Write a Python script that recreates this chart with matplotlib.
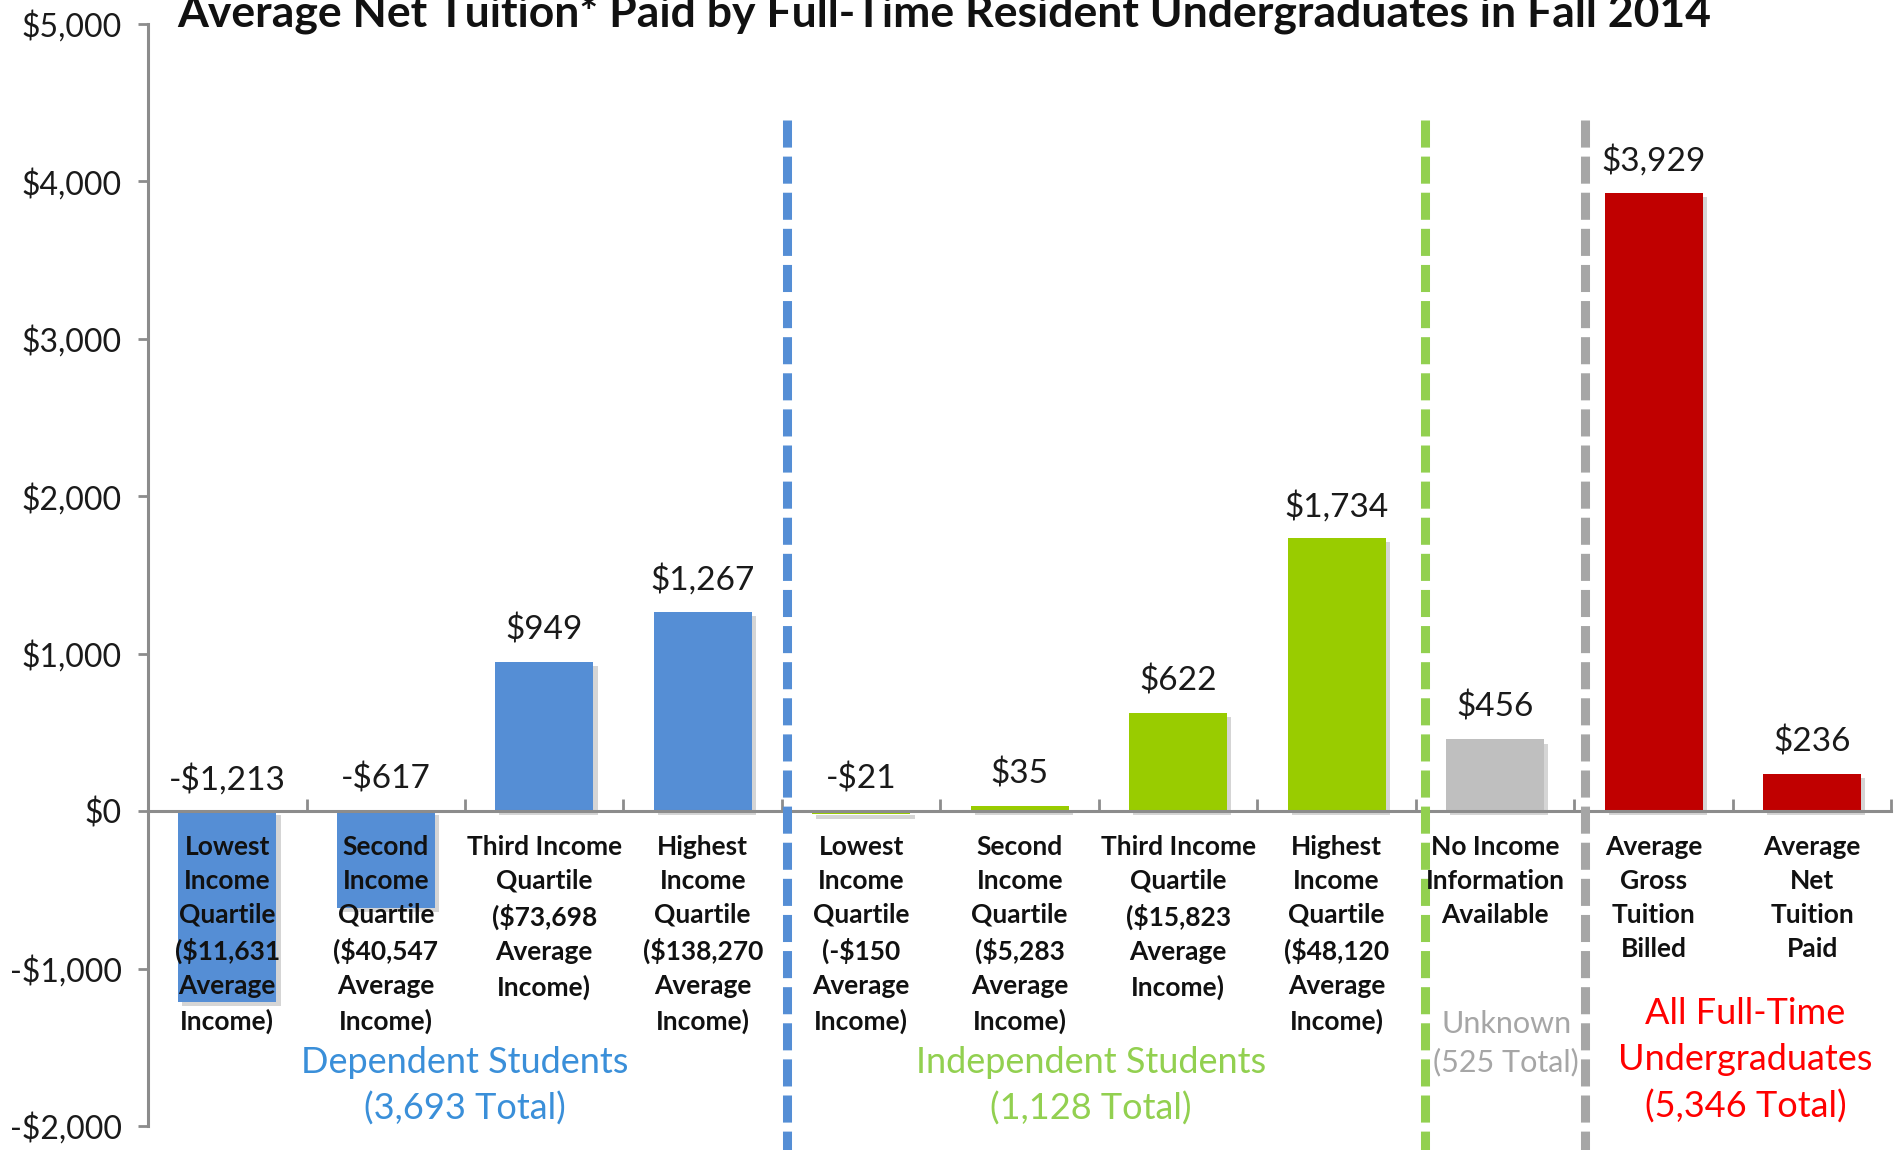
import matplotlib
matplotlib.use('Agg')
import matplotlib.pyplot as plt
import matplotlib.patheffects as pe

plt.rcParams['font.family'] = ['Lato', 'DejaVu Sans']

# data
labels = [
    'Lowest\nIncome\nQuartile\n($11,631\nAverage\nIncome)',
    'Second\nIncome\nQuartile\n($40,547\nAverage\nIncome)',
    'Third Income\nQuartile\n($73,698\nAverage\nIncome)',
    'Highest\nIncome\nQuartile\n($138,270\nAverage\nIncome)',
    'Lowest\nIncome\nQuartile\n(-$150\nAverage\nIncome)',
    'Second\nIncome\nQuartile\n($5,283\nAverage\nIncome)',
    'Third Income\nQuartile\n($15,823\nAverage\nIncome)',
    'Highest\nIncome\nQuartile\n($48,120\nAverage\nIncome)',
    'No Income\nInformation\nAvailable',
    'Average\nGross\nTuition\nBilled',
    'Average\nNet\nTuition\nPaid',
]
values = [-1213, -617, 949, 1267, -21, 35, 622, 1734, 456, 3929, 236]
groups = ['dep'] * 4 + ['ind'] * 4 + ['unk'] + ['all'] * 2

group_names = ['Dependent Students\n(3,693 Total)',
               'Independent Students\n(1,128 Total)',
               'Unknown\n(525 Total)',
               'All Full-Time\nUndergraduates\n(5,346 Total)']
group_centers = [1.5, 5.45, 8.07, 9.58]
group_label_y = [-1745, -1745, -1474, -1582]

yticks = [-2000, -1000, 0, 1000, 2000, 3000, 4000, 5000]
divider_x = [3.53, 7.56, 8.57]

bar_colors = {'dep': '#558ED5', 'ind': '#99CC00', 'unk': '#BFBFBF', 'all': '#C00000'}
text_colors = ['#3A8FD9', '#92D050', '#A6A6A6', '#FF0000']
sizes = [26, 26, 22, 26]
spacings = [1.45, 1.45, 1.4, 1.48]
divider_colors = ['#558ED5', '#92D050', '#A6A6A6']

fig = plt.figure(figsize=(18.98, 11.5), dpi=100)
ax = fig.add_axes([0.078, 0.0209, 0.9185, 0.9582])

x = list(range(len(values)))
bars = ax.bar(x, values, width=0.62, color=[bar_colors[g] for g in groups], zorder=2)
for b in bars:
    b.set_path_effects([pe.SimplePatchShadow(offset=(3, -3), alpha=0.22, shadow_rgbFace='#444444'),
                        pe.Normal()])

# value labels
for xi, v in zip(x, values):
    txt = '-${:,}'.format(-v) if v < 0 else '${:,}'.format(v)
    ax.annotate(txt, (xi, max(v, 0)), xytext=(0, 23), textcoords='offset points',
                ha='center', va='center', fontsize=24, color='#1a1a1a', zorder=5)

# category labels
for xi, lab in zip(x, labels):
    ax.text(xi, -150, lab, ha='center', va='top', fontsize=19, fontweight='bold',
            linespacing=1.5, color='#111111', zorder=5)

# group labels
for name, cx, cy, c, s, ls in zip(group_names, group_centers, group_label_y,
                                   text_colors, sizes, spacings):
    ax.text(cx, cy, name, ha='center', va='center', fontsize=s, color=c,
            linespacing=ls, zorder=5)

# dashed dividers
for dx, c in zip(divider_x, divider_colors):
    ax.plot([dx, dx], [4390, -2300], color=c, lw=6.5, dashes=(3.0, 1.0),
            clip_on=False, zorder=4, solid_capstyle='butt', dash_capstyle='butt')

ax.set_xlim(-0.5, 10.5)
ax.set_ylim(-2000, 5000)
ax.set_yticks(yticks)
ax.set_yticklabels(['-${:,}'.format(-t) if t < 0 else '${:,}'.format(t) for t in yticks])
ax.tick_params(axis='y', direction='out', length=7, width=2, color='#8C8C8C',
               labelsize=23, labelcolor='#1a1a1a', pad=12)

ax.spines['top'].set_visible(False)
ax.spines['right'].set_visible(False)
ax.spines['bottom'].set_position(('data', 0))
for s in ['left', 'bottom']:
    ax.spines[s].set_color('#8C8C8C')
    ax.spines[s].set_linewidth(2.2)
ax.spines['bottom'].set_zorder(3)
ax.set_xticks([i + 0.5 for i in range(len(values))])
ax.set_xticklabels([])
ax.tick_params(axis='x', direction='in', length=9, width=2, color='#8C8C8C')

fig.text(0.4975, 0.977, 'Average Net Tuition* Paid by Full-Time Resident Undergraduates in Fall 2014',
         ha='center', va='baseline', fontsize=32, fontweight='bold', color='#111111')

fig.savefig('out.png', dpi=100)
